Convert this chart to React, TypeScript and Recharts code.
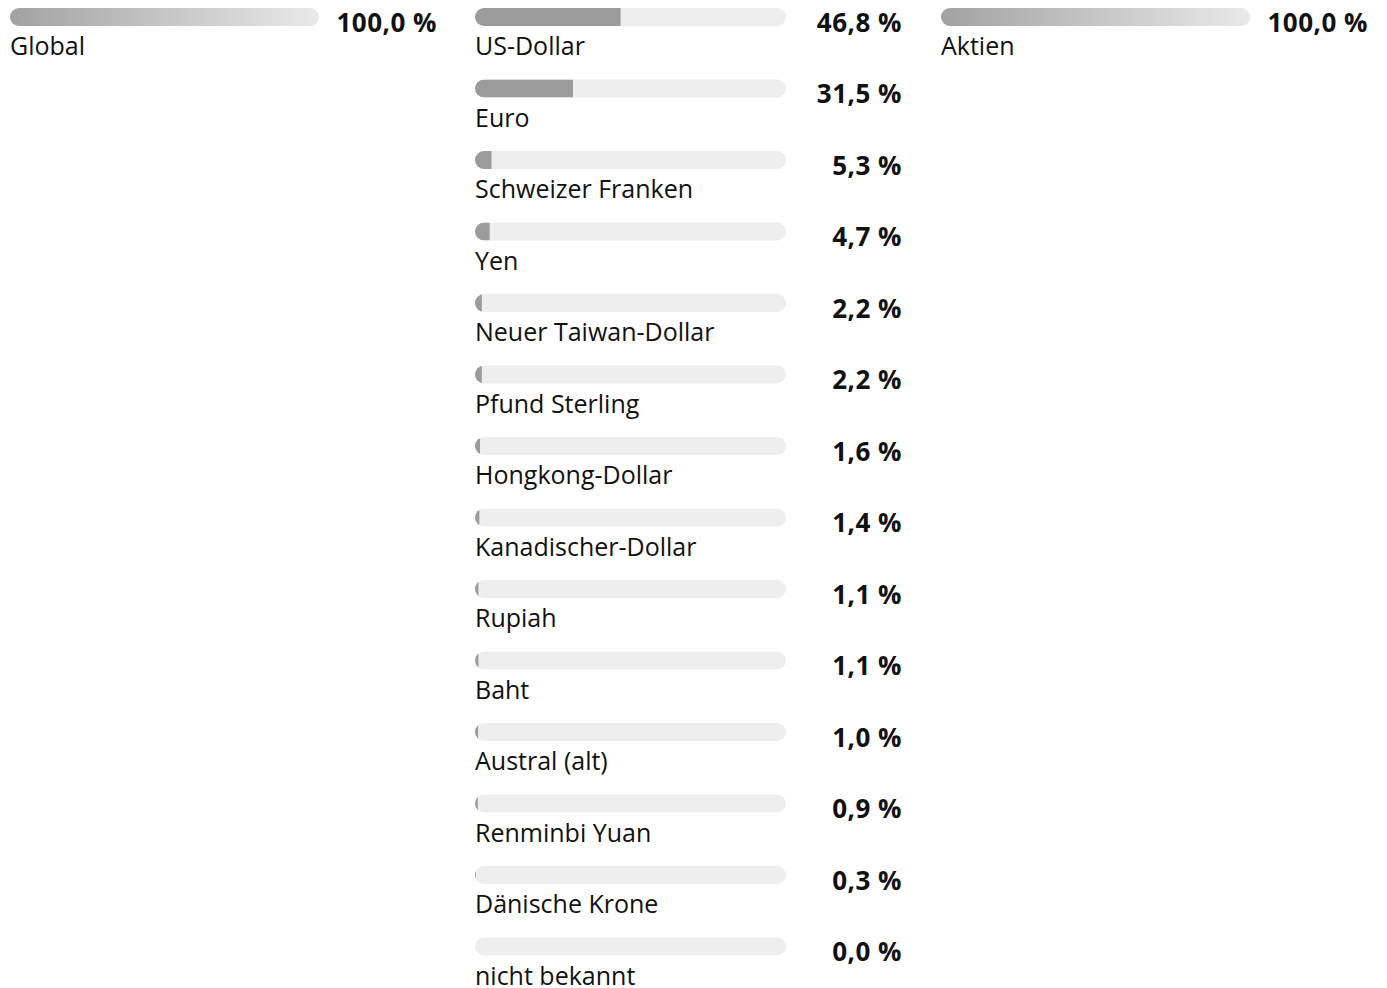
import { BarChart, Bar, XAxis, YAxis, LabelList } from "recharts";

const regionNames = ["Global"];
const regionValues = [100.0];

const currencyNames = [
  "US-Dollar",
  "Euro",
  "Schweizer Franken",
  "Yen",
  "Neuer Taiwan-Dollar",
  "Pfund Sterling",
  "Hongkong-Dollar",
  "Kanadischer-Dollar",
  "Rupiah",
  "Baht",
  "Austral (alt)",
  "Renminbi Yuan",
  "Dänische Krone",
  "nicht bekannt",
];
const currencyValues = [46.8, 31.5, 5.3, 4.7, 2.2, 2.2, 1.6, 1.4, 1.1, 1.1, 1.0, 0.9, 0.3, 0.0];

const assetNames = ["Aktien"];
const assetValues = [100.0];

const ROW = 71.5;
const BAR_H = 18;
const EXTRA = 30;
const FONT = "'Open Sans', 'Noto Sans', sans-serif";

const fmt = (v: number) => `${v.toFixed(1).replace(".", ",")} %`;

type ColumnProps = {
  id: string;
  names: string[];
  values: number[];
  left: number;
  track: number;
  valueRight: number;
  gradient?: boolean;
};

function AllocationColumn({ id, names, values, left, track, valueRight, gradient }: ColumnProps) {
  const data = names.map((name, i) => ({ name, value: values[i] }));
  const width = valueRight - left + 4;
  const height = ROW * names.length + EXTRA;
  const fill = gradient ? `url(#grad-${id})` : "#9b9b9b";

  const FillShape = (props: any) => {
    const { x, y, width: w, height: h, index } = props;
    const clipId = `clip-${id}-${index}`;
    return (
      <g>
        <defs>
          <clipPath id={clipId}>
            <rect x={x} y={y} width={track} height={h} rx={h / 2} ry={h / 2} />
          </clipPath>
        </defs>
        <rect x={x} y={y} width={Math.max(w, 0)} height={h} fill={fill} clipPath={`url(#${clipId})`} />
      </g>
    );
  };

  return (
    <div style={{ position: "absolute", left, top: 17 - ROW / 2 }}>
      <BarChart
        width={width}
        height={height}
        data={data}
        layout="vertical"
        margin={{ top: 0, right: width - track, bottom: EXTRA, left: 0 }}
        barCategoryGap={0}
      >
        <defs>
          <linearGradient id={`grad-${id}`} x1="0" y1="0" x2="1" y2="0">
            <stop offset="0%" stopColor="#a2a2a2" />
            <stop offset="100%" stopColor="#e9e9e9" />
          </linearGradient>
        </defs>
        <XAxis type="number" domain={[0, 100]} hide />
        <YAxis type="category" dataKey="name" hide width={0} />
        <Bar
          dataKey="value"
          barSize={BAR_H}
          background={{ fill: "#eeeeee", radius: BAR_H / 2 } as any}
          shape={FillShape}
          isAnimationActive={false}
        >
          <LabelList
            dataKey="name"
            content={(p: any) => (
              <text
                x={p.x}
                y={p.y + BAR_H / 2 + 28}
                dominantBaseline="central"
                fontFamily={FONT}
                fontSize={25}
                fill="#111"
              >
                {p.value}
              </text>
            )}
          />
          <LabelList
            dataKey="value"
            content={(p: any) => (
              <text
                x={p.x + width - 4}
                y={p.y + BAR_H / 2 + 4.5}
                dominantBaseline="central"
                textAnchor="end"
                fontFamily={FONT}
                fontSize={26}
                fontWeight={700}
                letterSpacing={0.5}
                fill="#111"
              >
                {fmt(Number(p.value))}
              </text>
            )}
          />
        </Bar>
      </BarChart>
    </div>
  );
}

export default function App() {
  return (
    <div
      style={{
        position: "absolute",
        left: 0,
        top: 0,
        width: 1387,
        height: 988,
        overflow: "hidden",
        background: "#fff",
      }}
    >
      <AllocationColumn id="reg" names={regionNames} values={regionValues} left={10} track={309} valueRight={437} gradient />
      <AllocationColumn id="cur" names={currencyNames} values={currencyValues} left={475} track={311} valueRight={902} />
      <AllocationColumn id="ast" names={assetNames} values={assetValues} left={941} track={309} valueRight={1368} gradient />
    </div>
  );
}
